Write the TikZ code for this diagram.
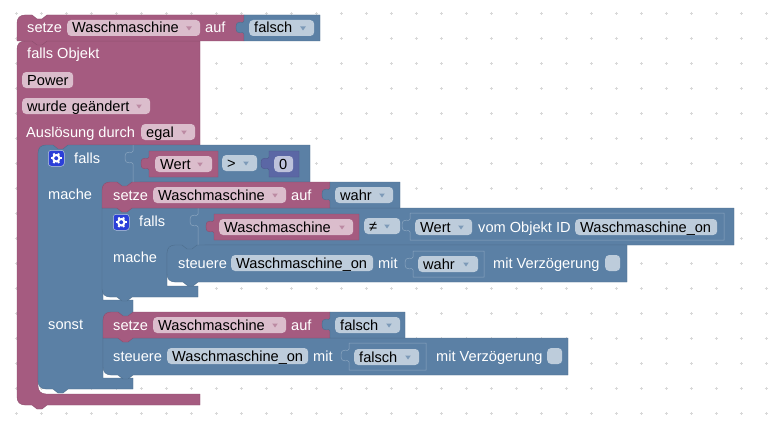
\documentclass[tikz,border=0pt]{standalone}
\usepackage{fontspec}
\setmainfont{Liberation Sans}
\definecolor{pk}{HTML}{A55B80}
\definecolor{pkD}{HTML}{8C4D6D}
\definecolor{pkL}{HTML}{C08BA6}
\definecolor{pkF}{HTML}{DBBDCC}
\definecolor{pkA}{HTML}{BC8AA3}
\definecolor{bl}{HTML}{5B80A5}
\definecolor{blD}{HTML}{4D6D8C}
\definecolor{blL}{HTML}{8CA6C0}
\definecolor{blF}{HTML}{BDCCDB}
\definecolor{blA}{HTML}{7D9AB8}
\definecolor{ma}{HTML}{5B67A5}
\definecolor{maD}{HTML}{4D588C}
\definecolor{maF}{HTML}{BDC2DB}
\definecolor{gr}{HTML}{D8D8D8}
\definecolor{ge}{HTML}{2B3FD8}
\tikzset{
  x=1pt,y=-1pt,
  lbl/.style={anchor=west,inner sep=0,text=white,font=\fontsize{14.6}{16}\selectfont,text height=11.5,text depth=1.5},
  fieldbox/.style={anchor=west,rounded corners=4,inner ysep=0,inner xsep=5,minimum height=16,text=black,align=left,
     font=\fontsize{14.6}{16}\selectfont,text height=11.5,text depth=1.5},
  blockP/.style={fill=pk,draw=pkD,line width=.4},
  blockB/.style={fill=bl,draw=blD,line width=.4},
  blockM/.style={fill=ma,draw=maD,line width=.4},
  valueL/.style={fill=bl,draw=blL,line width=.5},
}
% name, x0, x1, yc, fill, text
\newcommand{\BFld}[6]{\node[fieldbox,fill=#5,text width=\fpeval{#3-#2-10}] (#1) at (#2,#4) {#6};}
% triangle: x, yc, colour
\newcommand{\DArrow}[3]{\fill[#3] (\fpeval{#1-2.8},\fpeval{#2-1.5}) -- (\fpeval{#1+2.8},\fpeval{#2-1.5}) -- (#1,\fpeval{#2+2.5}) -- cycle;}
% tab path, x, y
\newcommand{\TabPath}[2]{(#1,\fpeval{#2+6})
  .. controls (#1,\fpeval{#2+10}) and (\fpeval{#1-8},\fpeval{#2+3}) .. (\fpeval{#1-8},\fpeval{#2+12.5})
  .. controls (\fpeval{#1-8},\fpeval{#2+22}) and (#1,\fpeval{#2+15}) .. (#1,\fpeval{#2+19})}
% style, x0, x1, ytop, ybot: block with a value tab on its left
\newcommand{\VBlock}[5]{\draw[#1] (#2,#4) -- \TabPath{#2}{#4} -- (#2,#5) -- (#3,#5) -- (#3,#4) -- cycle;}
% name, x, y: gear button
\newcommand{\Gear}[3]{%
  \node[draw=blF,fill=ge,rounded corners=3,minimum size=16,inner sep=0,line width=.5,anchor=north west] (#1) at (#2,#3) {};
  \draw[white,line width=2] (#1.center) circle[radius=3.2];
  \foreach \a in {0,60,...,300}{\draw[white,line width=2] (#1.center) ++(\a:3.5) -- ++(\a:2);}
}
\begin{document}
\begin{tikzpicture}
\useasboundingbox (0,0) rectangle (775,436);
\fill[white] (0,0) rectangle (775,436);
% grid
\foreach \gx in {16,41,...,766}{\foreach \gy in {13.5,38.5,...,414}{
  \draw[gr,line width=.7] (\gx-1.5,\gy) -- (\gx+1.5,\gy) (\gx,\gy-1.5) -- (\gx,\gy+1.5);}}
% outer event block
\draw[blockP] (17,49) .. controls (17,44) and (20,41) .. (25,41) -- (200,41) -- (200,145) -- (80,145) -- (80,151) -- (46,151) -- (46,153) -- (38,153)
  -- (38,386) .. controls (38,391) and (41,394) .. (46,394) -- (200,394) -- (200,405) -- (47,405) -- (42,409) -- (37,409) -- (32,405) -- (25,405)
  .. controls (20,405) and (17,402) .. (17,397) -- cycle;
% falls block outer
\draw[blockB] (38,153) .. controls (38,148) and (41,145) .. (46,145) -- (53,145) -- (58,149) -- (63,149) -- (68,145) -- (310,145) -- (310,182)
  -- (140,182) -- (140,188) -- (110,188) -- (110,190) -- (103,190) -- (103,300) -- (133,300) -- (133,312) -- (133,317) -- (110,317) -- (110,320) -- (103,320)
  -- (103,378) -- (133,378) -- (133,389) -- (68,389) -- (63,393) -- (58,393) -- (53,389) -- (46,389) .. controls (41,389) and (38,386) .. (38,381) -- cycle;
% inner falls
\draw[blockB] (102,208) -- (734,208) -- (734,245) -- (205,245) -- (205,251) -- (175,251) -- (175,253) -- (167,253) -- (167,286) -- (198,286) -- (198,297)
  -- (132,297) -- (127,301) -- (122,301) -- (117,297) -- (110,297) .. controls (105,297) and (102,294) .. (102,289) -- cycle;
\draw[blL,line width=.5] (198,208) -- \TabPath{198}{208} -- (198,245);
% steuere 1
\draw[blockB] (167,253) .. controls (167,248) and (170,245) .. (175,245) -- (182,245) -- (187,249) -- (192,249) -- (197,245) -- (627,245) -- (627,282)
  -- (198,282) -- (193,286) -- (188,286) -- (183,282) -- (175,282) .. controls (170,282) and (167,279) .. (167,274) -- cycle;
% setze wahr (mache)
\draw[blockP] (102,190) .. controls (102,185) and (105,182) .. (110,182) -- (117,182) -- (122,186) -- (127,186) -- (132,182) -- (330,182) -- (330,208)
  -- (132,208) -- (127,212) -- (122,212) -- (117,208) -- (102,208) -- cycle;
\VBlock{blockB}{330}{400}{182}{208}
% steuere 2
\draw[blockB] (103,338) -- (568,338) -- (568,375) -- (133,375) -- (128,379) -- (123,379) -- (118,375) -- (111,375) .. controls (106,375) and (103,372) .. (103,367) -- cycle;
% setze falsch (sonst)
\draw[blockP] (103,320) .. controls (103,315) and (106,312) .. (111,312) -- (118,312) -- (123,316) -- (128,316) -- (133,312) -- (330,312) -- (330,338)
  -- (133,338) -- (128,342) -- (123,342) -- (118,338) -- (103,338) -- cycle;
\VBlock{blockB}{330}{405}{312}{338}
% first row falls compare divider
\draw[blL,line width=.5] (133,145) -- \TabPath{133}{145} -- (133,182);
% top setze
\draw[blockP] (17,23) .. controls (17,18) and (20,15) .. (25,15) -- (32,15) -- (37,19) -- (42,19) -- (47,15) -- (244,15) -- (244,41)
  -- (47,41) -- (42,45) -- (37,45) -- (32,41) -- (17,41) -- cycle;
\VBlock{blockB}{244}{320}{15}{41}
% value blocks
\VBlock{blockP}{149}{218}{151}{177}
\VBlock{blockM}{269}{299}{151}{177}
\VBlock{blockP}{214}{359}{214}{240}
\VBlock{valueL}{410}{724}{213}{240}
\VBlock{valueL}{413}{484}{251}{277}
\VBlock{valueL}{349}{426}{343}{370}
% top row
\node[lbl] (t1) at (27,28) {setze};
\BFld{f1}{67}{200}{28}{pkF}{Waschmaschine}\DArrow{189}{28}{pkA}
\node[lbl] (t2) at (205,28) {auf};
\BFld{f2}{249}{314}{28}{blF}{falsch}\DArrow{303}{28}{blA}
% event
\node[lbl] (t3) at (27,54) {falls Objekt};
\BFld{f3}{22}{73}{80}{pkF}{Power}
\BFld{f4}{22}{150}{106}{pkF}{wurde geändert}\DArrow{139}{106}{pkA}
\node[lbl] (t4) at (26,132) {Auslösung durch};
\BFld{f5}{141}{195}{132}{pkF}{egal}\DArrow{184}{132}{pkA}
% falls 1
\Gear{g1}{48}{150}
\node[lbl] (t5) at (74,158) {falls};
\BFld{f6}{155}{212}{164}{pkF}{Wert}\DArrow{200}{164}{pkA}
\BFld{f7}{222}{257}{163}{blF}{>}\DArrow{246}{163}{blA}
\BFld{f8}{274}{293}{164}{maF}{0}
\node[lbl] (t6) at (48,194) {mache};
% setze mache
\node[lbl] (t7) at (113,195) {setze};
\BFld{f9}{153}{286}{195}{pkF}{Waschmaschine}\DArrow{275}{195}{pkA}
\node[lbl] (t8) at (291,195) {auf};
\BFld{f10}{335}{393}{195}{blF}{wahr}\DArrow{382}{195}{blA}
% falls 2
\Gear{g2}{113}{214}
\node[lbl] (t9) at (139,221) {falls};
\BFld{f11}{219}{353}{227}{pkF}{Waschmaschine}\DArrow{342}{227}{pkA}
\BFld{f12}{364}{400}{226}{blF}{≠}\DArrow{387}{226}{blA}
\BFld{f13}{415}{472}{227}{blF}{Wert}\DArrow{461}{227}{blA}
\node[lbl] (t10) at (478,227) {vom Objekt ID};
\BFld{f14}{575}{717}{227}{blF}{Waschmaschine\_on}
\node[lbl] (t11) at (113,257) {mache};
% steuere 1
\node[lbl] (t12) at (178,263) {steuere};
\BFld{f15}{231}{373}{263}{blF}{Waschmaschine\_on}
\node[lbl] (t13) at (378,263) {mit};
\BFld{f16}{418}{478}{264}{blF}{wahr}\DArrow{466}{264}{blA}
\node[lbl] (t14) at (493,263) {mit Verzögerung};
\node[fieldbox,fill=blF,minimum width=15,inner xsep=0] (c1) at (605,263) {};
% sonst
\node[lbl] (t15) at (48,324) {sonst};
\node[lbl] (t16) at (113,325) {setze};
\BFld{f17}{153}{286}{325}{pkF}{Waschmaschine}\DArrow{275}{325}{pkA}
\node[lbl] (t17) at (291,325) {auf};
\BFld{f18}{335}{400}{325}{blF}{falsch}\DArrow{389}{325}{blA}
% steuere 2
\node[lbl] (t18) at (113,356) {steuere};
\BFld{f19}{167}{308}{356}{blF}{Waschmaschine\_on}
\node[lbl] (t19) at (313,356) {mit};
\BFld{f20}{354}{419}{357}{blF}{falsch}\DArrow{408}{357}{blA}
\node[lbl] (t20) at (436,356) {mit Verzögerung};
\node[fieldbox,fill=blF,minimum width=15,inner xsep=0] (c2) at (547,356) {};
\end{tikzpicture}
\end{document}
